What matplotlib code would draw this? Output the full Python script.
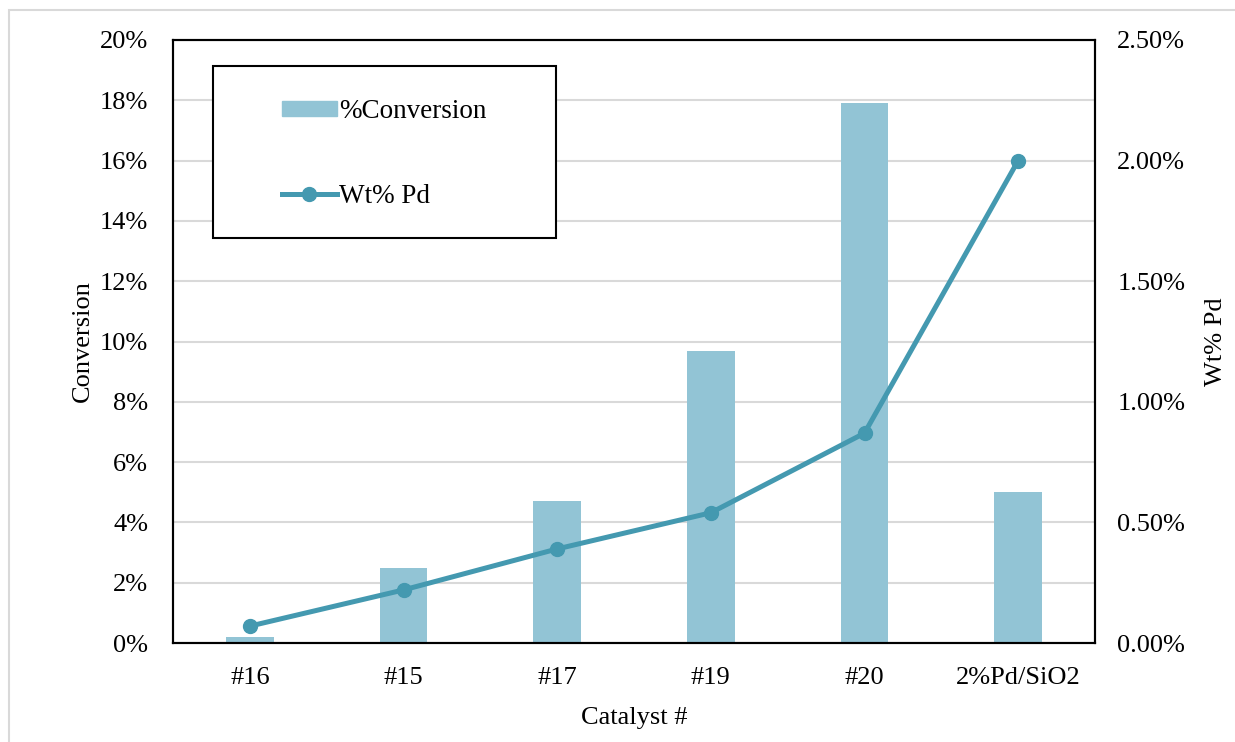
import matplotlib
matplotlib.use('Agg')
import matplotlib.pyplot as plt
import numpy as np
from matplotlib.patches import Rectangle
from matplotlib.lines import Line2D
from matplotlib.ticker import FuncFormatter

plt.rcParams['font.family'] = ['Liberation Serif', 'DejaVu Serif']

catalysts = ['#16', '#15', '#17', '#19', '#20', '2%Pd/SiO2']
conversion = [0.2, 2.5, 4.7, 9.7, 17.9, 5.0]      # %
wt_pd = [0.07, 0.22, 0.39, 0.54, 0.87, 2.00]       # %

bar_color = '#92C4D5'
line_color = '#4499B0'
grid_color = '#D9D9D9'

fig = plt.figure(figsize=(12.35, 7.42), dpi=100)
ax1 = fig.add_axes([173/1235, 1 - 643/742, 922/1235, 603/742])
ax2 = ax1.twinx()

# chart border (only top/left visible in the reference)
fig.patches.append(Rectangle((9/1235, -0.1), 1.2, 1 - 10/742 + 0.1, transform=fig.transFigure,
                             fill=False, edgecolor=grid_color, linewidth=1.5))

x = np.arange(len(catalysts))
ax1.bar(x, conversion, width=0.31, color=bar_color, zorder=2)
ax1.set_ylim(0, 20)
ax1.set_yticks(np.arange(0, 21, 2))
ax1.yaxis.set_major_formatter(FuncFormatter(lambda v, p: f'{v:.0f}%'))
ax1.set_xlim(-0.5, len(catalysts) - 0.5)
ax1.set_xticks(x, catalysts)
ax1.grid(axis='y', color=grid_color, linewidth=1.5, zorder=0)
ax1.set_axisbelow(True)
ax1.tick_params(length=0, labelsize=19)
ax1.tick_params(axis='y', pad=18)
ax1.tick_params(axis='x', pad=17.5)
ax1.set_ylabel('Conversion', fontsize=19, labelpad=4)
ax1.set_xlabel('Catalyst #', fontsize=19, labelpad=13)

ax2.plot(x, wt_pd, color=line_color, linewidth=3.6, marker='o', markersize=10, zorder=3)
ax2.set_ylim(0, 2.5)
ax2.set_yticks(np.arange(0, 2.51, 0.5))
ax2.yaxis.set_major_formatter(FuncFormatter(lambda v, p: f'{v:.2f}%'))
ax2.tick_params(length=0, labelsize=19, pad=16)
ax2.set_ylabel('Wt% Pd', fontsize=19, labelpad=14)

for ax in (ax1, ax2):
    for s in ax.spines.values():
        s.set_linewidth(1.5)
        s.set_color('black')

# legend box
ax2.add_patch(Rectangle((40/922, (643-238)/603), (556-213)/922, (238-66)/603,
                        transform=ax2.transAxes, fill=True, facecolor='white',
                        edgecolor='black', linewidth=1.5, zorder=4))
handles = [Rectangle((0, 0), 1, 1, color=bar_color),
           Line2D([], [], color=line_color, linewidth=3.6, marker='o', markersize=10)]
leg = ax2.legend(handles, ['%Conversion', 'Wt% Pd'], loc='center',
                 bbox_to_anchor=((384.5-173)/922, (643-154)/603), frameon=False,
                 fontsize=19.5, handlelength=2.0, handleheight=0.5, handletextpad=0.1,
                 labelspacing=2.2)
leg.set_zorder(5)

fig.savefig('out.png', dpi=100)
